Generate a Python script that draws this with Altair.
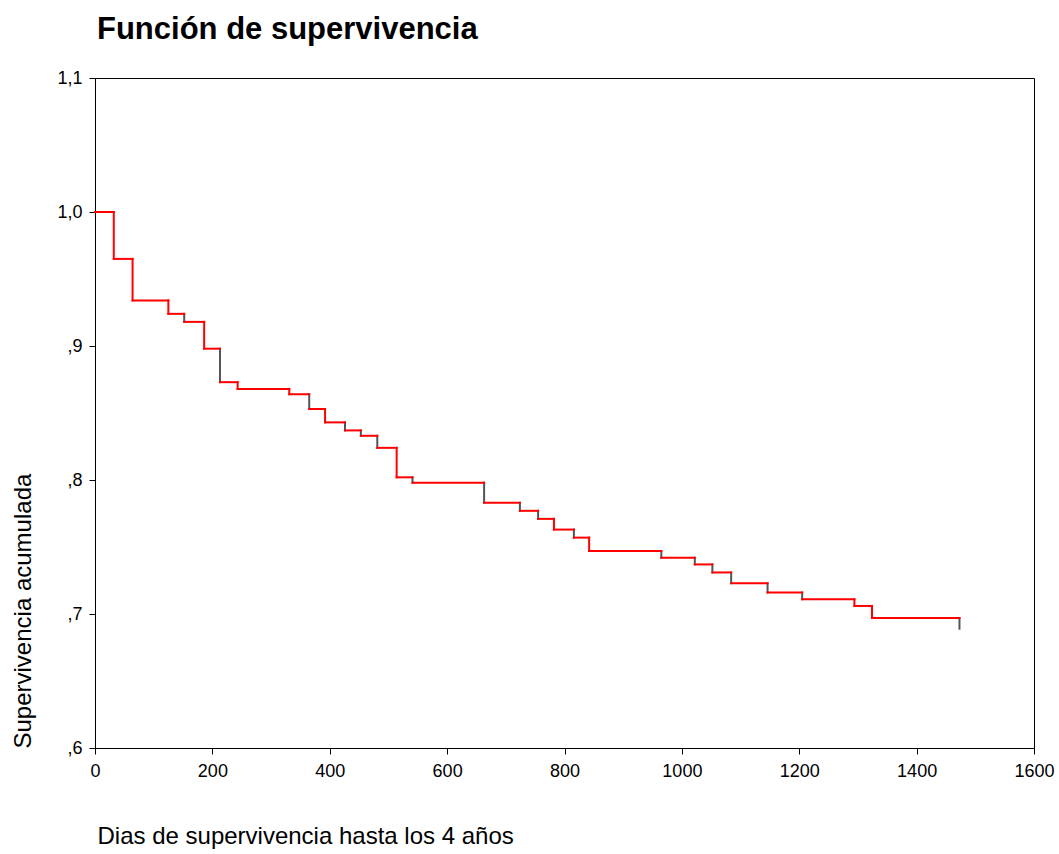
import altair as alt
import pandas as pd

# Kaplan-Meier estimate: event days and cumulative survival after each event
dias = [0, 32, 64, 125, 152, 186, 213, 243, 331, 365, 392, 426, 453, 481, 514,
        541, 663, 724, 755, 782, 816, 842, 965, 1022, 1052, 1084, 1146, 1205,
        1294, 1324, 1473]
supervivencia = [1.000, 0.965, 0.934, 0.924, 0.918, 0.898, 0.873, 0.868, 0.864,
                 0.853, 0.843, 0.837, 0.833, 0.824, 0.802, 0.798, 0.783, 0.777,
                 0.771, 0.763, 0.757, 0.747, 0.742, 0.737, 0.731, 0.723, 0.716,
                 0.711, 0.706, 0.697, 0.689]

# days whose drop segment is drawn in dark grey instead of red
caidas_grises = [152, 213, 365, 426, 453, 481, 541, 663, 724, 755, 816, 965,
                 1022, 1052, 1084, 1146, 1205, 1473]

x_ticks = [0, 200, 400, 600, 800, 1000, 1200, 1400, 1600]
y_ticks = [0.6, 0.7, 0.8, 0.9, 1.0, 1.1]

horiz = pd.DataFrame({
    "t0": dias[:-1],
    "t1": dias[1:],
    "s": supervivencia[:-1],
})
vert = pd.DataFrame({
    "t": dias[1:],
    "s0": supervivencia[:-1],
    "s1": supervivencia[1:],
    "tipo": ["gris" if d in caidas_grises else "rojo" for d in dias[1:]],
})

FONT = "Liberation Sans, Arial, sans-serif"

x_scale = alt.Scale(domain=[0, 1600], nice=False)
y_scale = alt.Scale(domain=[0.6, 1.1], nice=False, zero=False)

x_axis = alt.Axis(
    values=x_ticks, format="d", grid=False, tickSize=6, tickColor="black",
    domainColor="black",
    labelFont=FONT, labelFontSize=18, labelColor="black", labelPadding=8,
    labelFlush=False,
    title="Dias de supervivencia hasta los 4 años", titleFont=FONT,
    titleFontSize=24, titleFontWeight="normal", titleColor="black",
    titleAnchor="start", titleAlign="left", titleBaseline="alphabetic",
    titleX=2, titleY=95,
)
y_axis = alt.Axis(
    values=y_ticks, grid=False, tickSize=6, tickColor="black", domainColor="black",
    labelFont=FONT, labelFontSize=18, labelColor="black", labelPadding=7,
    labelFlush=False,
    labelExpr="datum.value >= 1 ? replace(format(datum.value, '.1f'), '.', ',') "
              ": replace(format(datum.value, '.1f'), '0.', ',')",
    title="Supervivencia acumulada", titleFont=FONT, titleFontSize=24,
    titleFontWeight="normal", titleColor="black",
    titleAngle=270, titleAlign="left", titleBaseline="middle",
    titleX=-72, titleY=670,
)

# plain frame lines on the top and right sides of the plot
x_top = alt.Axis(orient="top", labels=False, ticks=False, grid=False,
                 domainColor="black", title=None)
y_right = alt.Axis(orient="right", labels=False, ticks=False, grid=False,
                   domainColor="black", title=None)

drops = alt.Chart(vert).mark_rule(strokeWidth=2, strokeCap="square").encode(
    x=alt.X("t:Q", scale=x_scale, axis=x_axis),
    y=alt.Y("s0:Q", scale=y_scale, axis=y_axis),
    y2="s1:Q",
    color=alt.Color("tipo:N",
                    scale=alt.Scale(domain=["rojo", "gris"], range=["#ff0000", "#555555"]),
                    legend=None),
)

steps = alt.Chart(horiz).mark_rule(strokeWidth=2, color="#ff0000", strokeCap="square").encode(
    x=alt.X("t0:Q", scale=x_scale, axis=x_top),
    x2="t1:Q",
    y=alt.Y("s:Q", scale=y_scale, axis=y_right),
)

chart = alt.layer(drops, steps).resolve_axis(
    x="independent", y="independent"
).properties(
    width=939,
    height=670,
    autosize=alt.AutoSizeParams(type="none"),
    padding={"left": 95, "top": 78, "right": 25, "bottom": 106},
    title=alt.TitleParams(
        "Función de supervivencia", font=FONT, fontSize=31, fontWeight="bold",
        color="black", anchor="start", frame="group", baseline="alphabetic",
        offset=32, dx=2, dy=33,
    ),
).configure_view(stroke="black", strokeWidth=1).configure(background="white")

chart.save("out.html", embed_options={"renderer": "svg", "actions": False})
